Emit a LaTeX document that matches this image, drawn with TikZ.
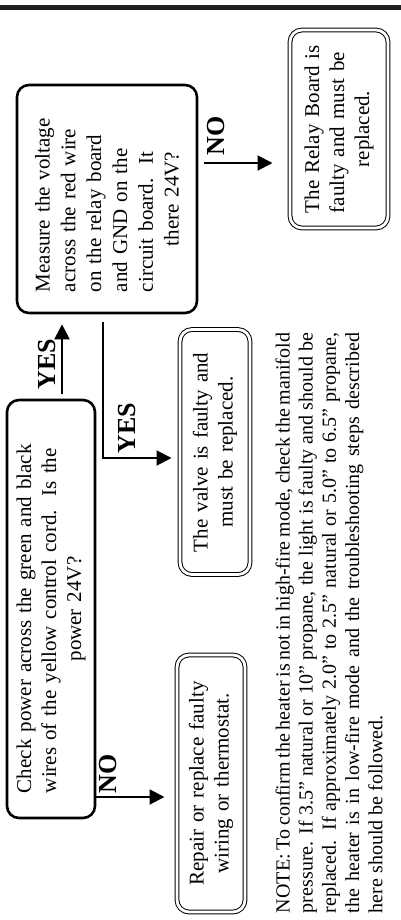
\documentclass[tikz,border=0pt]{standalone}
\usepackage{fontspec}
\setmainfont{Liberation Serif}
\usetikzlibrary{arrows.meta}

% one justified line of a box
\newcommand{\fl}[1]{\leavevmode\hbox to \linewidth{#1}}

\begin{document}
\begin{tikzpicture}[x=0.5pt, y=-0.5pt,
  question/.style={draw, line width=1.3pt, rounded corners=6pt, rotate=90, inner sep=0pt, align=center, font=\fontsize{10.5}{12.5}\selectfont},
  result/.style={draw, double, double distance=1.4pt, line width=0.5pt, rounded corners=6pt, rotate=90, inner sep=0pt, align=center, font=\fontsize{10.5}{12.5}\selectfont},
  answer/.style={rotate=90, inner sep=0pt, font=\bfseries\fontsize{13}{13}\selectfont},
  flow/.style={line width=1pt, -{Triangle[length=7.5pt, width=7.5pt]}},
]
\useasboundingbox (0,0) rectangle (401,920);
\fill[black!88] (0,5) rectangle (401,10.5);

\node[question, minimum width=209pt, minimum height=44pt, text width=184pt] (check) at (51,609)
  {\fl{Check power across the green and black}\\ \fl{wires of the yellow control cord.\ \ Is the}\\ power 24V?};
\node[question, minimum width=114pt, minimum height=90pt, text width=93pt, font=\fontsize{10.5}{12.9}\selectfont] (measure) at (107,199)
  {\fl{Measure the voltage}\\ \fl{across the red wire}\\ \fl{on the relay board}\\ \fl{and GND on the}\\ \fl{circuit board.\ \ It}\\ there 24V?};
\node[result, minimum width=99pt, minimum height=49pt, text width=84pt] (relay) at (339,129)
  {\fl{The Relay Board is}\\ \fl{faulty and must be}\\ replaced.};
\node[result, minimum width=122.5pt, minimum height=35pt, text width=100pt] (valve) at (215,452)
  {\fl{The valve is faulty and}\\ must be replaced.};
\node[result, minimum width=128.5pt, minimum height=34pt, text width=102pt] (repair) at (211,783.5)
  {\fl{Repair or replace faulty}\\ wiring or thermostat.};
\node[rotate=90, inner sep=0pt, text width=290pt, align=justify, font=\fontsize{10}{11.6}\selectfont] (note) at (329,623)
  {NOTE: To confirm the heater is not in high-fire mode, check the manifold\linebreak
   pressure.  If 3.5'' natural or 10'' propane, the light is faulty and should be\linebreak
   replaced.  If approximately 2.0'' to 2.5'' natural or 5.0'' to 6.5'' propane,\linebreak
   the heater is in low-fire mode and the troubleshooting steps described\linebreak
   here should be followed.};

\node[answer] (yes1) at (47,364) {YES};
\node[answer] (no1) at (108,774) {NO};
\node[answer] (yes2) at (127,428) {YES};
\node[answer] (no2) at (216,136) {NO};

\coordinate (a1) at (62,0);
\coordinate (a2) at (103,0);
\coordinate (n1) at (0,797);
\coordinate (n2) at (0,163);
\coordinate (y2) at (0,458);

\draw[flow, shorten <=2.5pt, shorten >=5pt] (check.east -| a1) -- (measure.west -| a1);
\draw[flow, shorten >=6pt] (check.south |- n1) -- (repair.north |- n1);
\draw[flow, shorten <=4pt, shorten >=4pt] (measure.west -| a2) |- (valve.north |- y2);
\draw[flow, shorten <=3pt, shorten >=8.5pt] (measure.south |- n2) -- (relay.north |- n2);
\end{tikzpicture}
\end{document}
